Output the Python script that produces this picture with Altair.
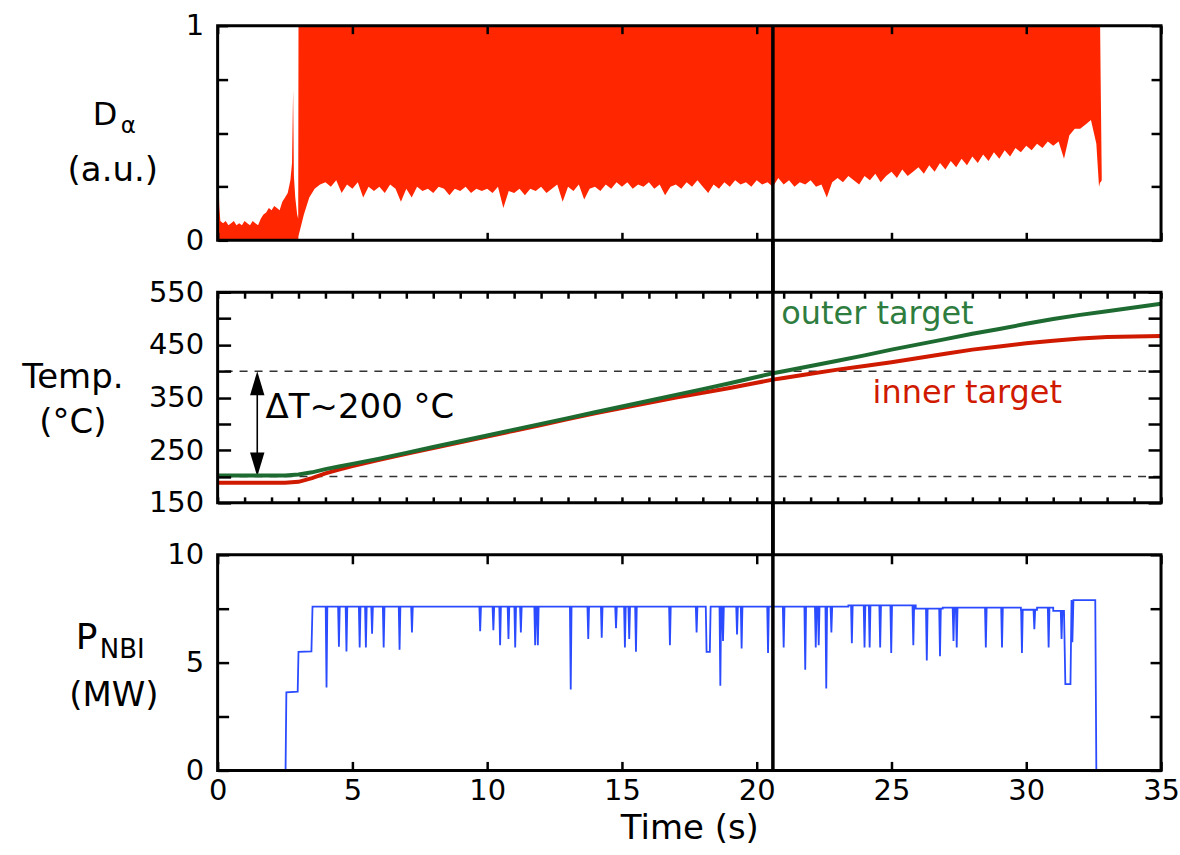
import altair as alt
import pandas as pd

FONT = "DejaVu Sans"

# ---------------- values ----------------
# D-alpha (a.u.) before the ELM phase: filled from 0 up to the signal
da_pre_t = [0.00, 0.03, 0.06, 0.10, 0.20, 0.30, 0.40, 0.50, 0.60, 0.70, 0.80, 0.90,
            1.00, 1.10, 1.20, 1.30, 1.40, 1.50, 1.60, 1.70, 1.80, 1.90, 2.00, 2.10,
            2.20, 2.30, 2.40, 2.50, 2.60, 2.70, 2.76, 2.80, 2.83, 2.88, 2.95, 2.99]
da_pre_hi = [0.40, 0.30, 0.16, 0.09, 0.08, 0.09, 0.07, 0.08, 0.09, 0.07, 0.08, 0.07,
             0.09, 0.08, 0.07, 0.09, 0.08, 0.07, 0.10, 0.12, 0.13, 0.15, 0.14, 0.16,
             0.15, 0.14, 0.18, 0.20, 0.22, 0.28, 0.36, 0.70, 0.30, 0.20, 0.12, 0.10]

# ELM phase: lower envelope of the signal every 0.2 s from 3.0 s (spikes reach 1)
elm_t0 = 3.0
elm_dt = 0.2
elm_lo = [0.02, 0.12, 0.20, 0.24, 0.26,
          0.27, 0.25, 0.28, 0.22, 0.26,
          0.24, 0.27, 0.20, 0.25, 0.23,
          0.25, 0.22, 0.26, 0.24, 0.18,
          0.24, 0.20, 0.25, 0.23, 0.24,
          0.22, 0.25, 0.24, 0.21, 0.24,
          0.23, 0.25, 0.22, 0.24, 0.23,
          0.24, 0.22, 0.25, 0.15, 0.23,
          0.22, 0.24, 0.21, 0.24, 0.23,
          0.25, 0.22, 0.24, 0.26, 0.18,
          0.25, 0.23, 0.26, 0.19, 0.24,
          0.25, 0.23, 0.26, 0.24, 0.27,
          0.25, 0.27, 0.24, 0.26, 0.25,
          0.27, 0.24, 0.26, 0.21, 0.25,
          0.26, 0.24, 0.27, 0.25, 0.28,
          0.25, 0.22, 0.26, 0.24, 0.27,
          0.25, 0.28, 0.26, 0.27, 0.25,
          0.28, 0.26, 0.27, 0.25, 0.29,
          0.26, 0.28, 0.25, 0.27, 0.26,
          0.28, 0.25, 0.26, 0.20, 0.27,
          0.29, 0.27, 0.30, 0.28, 0.26,
          0.30, 0.28, 0.31, 0.27, 0.30,
          0.32, 0.29, 0.33, 0.30, 0.32,
          0.34, 0.31, 0.35, 0.32, 0.36,
          0.33, 0.37, 0.34, 0.38, 0.35,
          0.39, 0.36, 0.40, 0.37, 0.41,
          0.38, 0.42, 0.39, 0.43, 0.41,
          0.44, 0.42, 0.45, 0.43, 0.46,
          0.44, 0.46, 0.38, 0.49, 0.52,
          0.52, 0.54, 0.56, 0.45]
# end of the discharge
da_end_t = [32.70, 32.74, 32.76, 32.80]
da_end_lo = [0.25, 0.27, 0.27, 0.28]
da_end_hi = [1.00, 1.00, 0.75, 0.30]

# Target temperatures (deg C)
temp_t = [0, 1, 2, 2.5, 3, 3.5, 4, 4.5, 5, 6, 7, 8, 9, 10, 11, 12, 13, 14, 15, 16, 17,
          18, 19, 20, 20.6, 21, 22, 23, 24, 25, 26, 27, 28, 29, 30, 31, 32, 33, 34, 35]
temp_outer = [202, 202, 202, 202, 204, 208, 214, 219, 224, 234, 245, 256, 267, 278, 289,
              300, 311, 322, 333, 344, 355, 366, 377, 389, 396, 400, 410, 420, 430, 441,
              451, 461, 471, 480, 490, 499, 507, 514, 521, 528]
temp_inner = [188, 188, 188, 188, 190, 197, 206, 213, 220, 232, 243, 254, 265, 276, 287,
              298, 309, 320, 330, 340, 350, 359, 368, 378, 384, 387, 395, 403, 410, 417,
              425, 433, 441, 447, 453, 458, 462, 465, 466, 467]

# NBI power (MW)
nbi_ramp_t = [2.52, 2.55, 2.97, 3.00, 3.48, 3.52]
nbi_ramp_p = [0.00, 3.62, 3.65, 5.50, 5.52, 7.60]
nbi_seg_t = [3.52, 23.40, 25.90, 26.90, 29.80, 30.40, 31.00]
nbi_seg_p = [7.60, 7.65, 7.50, 7.55, 7.45, 7.55, 7.40]
nbi_dip_t = [4.04, 4.50, 4.78, 5.27, 5.50, 5.73, 6.16, 6.75, 7.21, 9.74, 10.23, 10.48,
             10.79, 11.04, 11.25, 11.78, 11.88, 13.10, 13.75, 14.25, 14.78, 15.11, 15.27,
             15.52, 16.78, 17.77, 18.20, 18.65, 18.75, 19.27, 19.44, 20.42, 21.00, 21.80,
             22.19, 22.30, 22.58, 22.77, 23.53, 24.00, 24.19, 24.58, 24.99, 25.81, 26.31,
             26.80, 27.30, 27.42, 28.50, 29.10, 29.84, 30.30, 30.83, 31.31]
nbi_dip_p = [3.84, 5.74, 5.52, 5.70, 5.70, 6.34, 5.70, 5.60, 6.40, 6.45, 6.50, 5.80,
             6.10, 5.70, 6.40, 5.80, 5.80, 3.75, 6.10, 6.15, 6.60, 5.70, 6.10,
             5.50, 5.80, 6.40, 5.50, 3.93, 6.00, 6.30, 5.65, 5.45, 5.70, 4.67,
             5.70, 5.80, 3.80, 6.40, 5.90, 5.70, 5.70, 5.70, 5.45, 5.80, 5.10,
             5.30, 6.00, 5.70, 5.70, 5.70, 5.45, 6.55, 5.70, 6.10]
nbi_dip_w = [0.0] * 26 + [0.12] + [0.0] * 27
nbi_end_t = [31.40, 31.45, 31.64, 31.68, 31.71, 31.75, 32.56, 32.60]
nbi_end_p = [7.40, 4.00, 4.00, 7.90, 5.95, 7.90, 7.90, 0.00]

VLINE_T = 20.6  # vertical marker time (s)

# ---------------- tables ----------------
rows = [(t, 0.0, h) for t, h in zip(da_pre_t, da_pre_hi)]
rows += [(round(elm_t0 + elm_dt * i, 2), lo, 1.0) for i, lo in enumerate(elm_lo)]
rows += list(zip(da_end_t, da_end_lo, da_end_hi))
df_da = pd.DataFrame(rows, columns=["t", "lo", "hi"])

df_temp = pd.DataFrame({"t": temp_t, "outer": temp_outer, "inner": temp_inner})


def nbi_base(t):
    level = nbi_seg_p[0]
    for s, p in zip(nbi_seg_t, nbi_seg_p):
        if t >= s:
            level = p
    return level


pts = list(zip(nbi_ramp_t, nbi_ramp_p))
for i, (s, p) in enumerate(zip(nbi_seg_t, nbi_seg_p)):
    if i > 0:
        pts.append((s, nbi_seg_p[i - 1]))
    pts.append((s + 0.001, p))
for t, p, w in zip(nbi_dip_t, nbi_dip_p, nbi_dip_w):
    b = nbi_base(t)
    pts += [(t - w / 2 - 0.03, b), (t - w / 2, p), (t + w / 2, p), (t + w / 2 + 0.03, b)]
pts += list(zip(nbi_end_t, nbi_end_p))
df_nbi = pd.DataFrame(sorted(pts), columns=["t", "p"])

one = pd.DataFrame({"k": [0]})

# ---------------- layout ----------------
W = 945
H1, H2, H3 = 215, 211, 216
GAP = 52

xs = alt.Scale(domain=[0, 35], nice=False, zero=False)
ys1 = alt.Scale(domain=[0, 1], nice=False, zero=False)
ys2 = alt.Scale(domain=[150, 550], nice=False, zero=False)
ys3 = alt.Scale(domain=[0, 10], nice=False, zero=False)


def ax(orient, values, tick, label_expr=None, title=None, lab_pad=14, **kw):
    opts = dict(orient=orient, values=values, tickSize=tick, offset=-tick, domain=False,
                grid=False, ticks=True, tickColor="black", tickWidth=2.5, zindex=3,
                labelFlush=False, labelOverlap=False, title=title)
    if label_expr is None:
        opts["labels"] = False
    else:
        opts["labelExpr"] = label_expr
        opts["labelPadding"] = lab_pad
    opts.update(kw)
    return alt.Axis(**opts)


def guides(ys, ymin, ymax, bottom, left, top, right):
    d = pd.DataFrame({"x": [0, 35], "y": [ymin, ymax]})
    g1 = alt.Chart(d).mark_point(opacity=0).encode(
        x=alt.X("x:Q", scale=xs, axis=bottom), y=alt.Y("y:Q", scale=ys, axis=left))
    g2 = alt.Chart(d).mark_point(opacity=0).encode(
        x=alt.X("x:Q", scale=xs, axis=top), y=alt.Y("y:Q", scale=ys, axis=right))
    return [g1, g2]


def frame(h):
    return alt.Chart(one).mark_rect(fill="transparent", stroke="black", strokeWidth=3).encode(
        x=alt.value(0), x2=alt.value(W), y=alt.value(0), y2=alt.value(h))


def vline(y0, y1):
    return alt.Chart(one).mark_rule(color="black", strokeWidth=3.5).encode(
        x=alt.XDatum(VLINE_T, scale=xs, axis=None), y=alt.value(y0), y2=alt.value(y1))


def label(text, x, y, size, align="center", color="black"):
    return alt.Chart(one).mark_text(text=text, font=FONT, fontSize=size, align=align,
                                    baseline="alphabetic", color=color).encode(
        x=alt.value(x), y=alt.value(y))


# ---- panel 1: D-alpha ----
area = alt.Chart(df_da).mark_area(color="#ff2600").encode(
    x=alt.X("t:Q", scale=xs, axis=None),
    y=alt.Y("lo:Q", scale=ys1, axis=None),
    y2="hi:Q")
q = [0, 0.25, 0.5, 0.75, 1]
x5 = list(range(0, 36, 5))
g_top = guides(ys1, 0, 1,
               ax("bottom", x5, 8), ax("left", q, 10, "datum.value == 0 ? '0' : (datum.value == 1 ? '1' : '')"),
               ax("top", x5, 8), ax("right", q, 10))
anchor = alt.Chart(one).mark_rule(color="white", strokeWidth=1).encode(
    x=alt.value(-217), x2=alt.value(-216), y=alt.value(-24), y2=alt.value(-23))
p1 = alt.layer(
    area, *g_top, vline(0, H1 + GAP), frame(H1),
    label("D", -125, 99, 32, "left"), label("α", -97, 108, 23, "left"),
    label("(a.u.)", -105, 156, 34), anchor,
).properties(width=W, height=H1).resolve_axis(x="independent", y="independent")

# ---- panel 2: temperatures ----
x1 = list(range(0, 36))
t50 = list(range(150, 551, 50))
g_mid = guides(ys2, 150, 550,
               ax("bottom", x1, 6), ax("left", t50, 13, "(datum.value - 150) % 100 == 0 ? datum.label : ''"),
               ax("top", x1, 6), ax("right", t50, 13))
dashed = [alt.Chart(one).mark_rule(color="#333333", strokeWidth=1.6, strokeDash=[8, 7]).encode(
    y=alt.YDatum(v, scale=ys2, axis=None)) for v in (200, 400)]
arrow = alt.Chart(one).mark_rule(color="black", strokeWidth=1.6).encode(
    x=alt.XDatum(1.47, scale=xs, axis=None),
    y=alt.YDatum(212, scale=ys2, axis=None), y2=alt.Y2Datum(388))
head_up = alt.Chart(one).mark_point(shape="M0,0L0.6,2L-0.6,2Z", filled=True, size=576,
                                    color="black", opacity=1).encode(
    x=alt.XDatum(1.47, scale=xs, axis=None), y=alt.YDatum(400, scale=ys2, axis=None))
head_dn = alt.Chart(one).mark_point(shape="M0,0L0.6,-2L-0.6,-2Z", filled=True, size=576,
                                    color="black", opacity=1).encode(
    x=alt.XDatum(1.47, scale=xs, axis=None), y=alt.YDatum(200, scale=ys2, axis=None))
line_in = alt.Chart(df_temp).mark_line(color="#d01a00", strokeWidth=4).encode(
    x=alt.X("t:Q", scale=xs, axis=None), y=alt.Y("inner:Q", scale=ys2, axis=None))
line_out = alt.Chart(df_temp).mark_line(color="#1e6b32", strokeWidth=4).encode(
    x=alt.X("t:Q", scale=xs, axis=None), y=alt.Y("outer:Q", scale=ys2, axis=None))


def dtext(text, t, v, size, color):
    return alt.Chart(one).mark_text(text=text, font=FONT, fontSize=size, align="left",
                                    baseline="alphabetic", color=color).encode(
        x=alt.XDatum(t, scale=xs, axis=None), y=alt.YDatum(v, scale=ys2, axis=None))


p2 = alt.layer(
    *g_mid, *dashed, arrow, head_up, head_dn, line_in, line_out,
    dtext("ΔT~200 °C", 1.78, 312, 34, "black"),
    dtext("outer target", 20.91, 489, 32, "#2e7d3e"),
    dtext("inner target", 24.3, 339, 32, "#d01a00"),
    vline(-GAP, H2 + GAP), frame(H2),
    label("Temp.", -145, 96, 34), label("(°C)", -145, 141, 34),
).properties(width=W, height=H2).resolve_axis(x="independent", y="independent")

# ---- panel 3: NBI power ----
p25 = [0, 2.5, 5, 7.5, 10]
g_bot = guides(ys3, 0, 10,
               ax("bottom", x5, 9, "format(datum.value, 'd')", title="Time (s)", lab_pad=6,
                  titlePadding=6),
               ax("left", p25, 11, "datum.value % 5 == 0 ? format(datum.value, 'd') : ''"),
               ax("top", x5, 9), ax("right", p25, 11))
nbi = alt.Chart(df_nbi).mark_line(color="#2a4bff", strokeWidth=1.8).encode(
    x=alt.X("t:Q", scale=xs, axis=None), y=alt.Y("p:Q", scale=ys3, axis=None))
p3 = alt.layer(
    *g_bot, nbi, vline(-GAP, H3), frame(H3),
    label("P", -142, 94, 36, "left"), label("NBI", -118, 103, 26, "left"),
    label("(MW)", -104, 151, 34),
).properties(width=W, height=H3).resolve_axis(x="independent", y="independent")

chart = alt.vconcat(p1, p2, p3, spacing=GAP, bounds="flush").properties(
    padding=0
).configure_view(stroke="transparent").configure_axis(
    labelFont=FONT, labelFontSize=29, labelColor="black",
    titleFont=FONT, titleFontSize=34, titleFontWeight="normal", titleColor="black",
)

chart.save("out.html", embed_options={"renderer": "svg", "actions": False})
